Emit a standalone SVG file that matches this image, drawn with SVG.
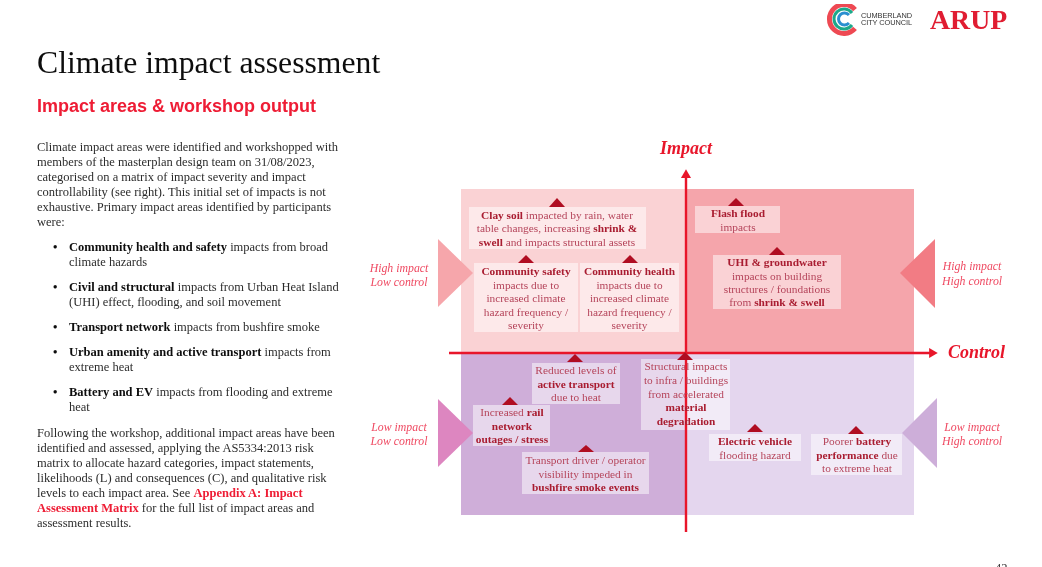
<svg xmlns="http://www.w3.org/2000/svg" width="1042" height="567" viewBox="0 0 1042 567">
<style>
text{font-family:"Liberation Serif","Times New Roman",serif}
.b{font-size:12.5px;fill:#2c2c2c}
.b tspan.s{font-weight:bold;fill:#111}
.b tspan.r{font-weight:bold;fill:#ee1c34}
.n{font-size:11.35px;fill:#b5445a;text-anchor:middle}
.n tspan.s{font-weight:bold;fill:#a91d30}
.box{fill:#fff;fill-opacity:.5}
.tri{fill:#b00f20}
.q{font-size:11.8px;font-style:italic;fill:#ef4a62;text-anchor:middle}
.ax{font-size:18px;font-style:italic;font-weight:bold;fill:#e8172c}
.axis{stroke:#e8172c;stroke-width:2.4;fill:none}
.lg{font-family:"Liberation Sans",Arial,sans-serif;font-size:7.4px;fill:#333}
</style>
<defs>
<marker id="ah" markerWidth="6" markerHeight="6" refX="1.2" refY="3" orient="auto" markerUnits="strokeWidth"><path d="M0 .9L3.6 3L0 5.1Z" fill="#e8172c"/></marker>
<filter id="soft" x="0" y="0" width="100%" height="100%"><feGaussianBlur stdDeviation="0.35"/></filter>
</defs>
<rect width="1042" height="567" fill="#fff"/>
<g filter="url(#soft)">
<g id="logos">
<path d="M855 9.600A14.500 14.500 0 1 0 855 28.400" fill="none" stroke="#ee4a52" stroke-width="5"/>
<path d="M852 13A10 10 0 1 0 852 25" fill="none" stroke="#1fa88a" stroke-width="3"/>
<path d="M849 15A6 6 0 1 0 849 23" fill="none" stroke="#2b8fd0" stroke-width="3"/>
<text class="lg" x="861" y="18" textLength="51">CUMBERLAND</text>
<text class="lg" x="861" y="25" textLength="51">CITY COUNCIL</text>
<text x="930" y="29" style="font-size:27.800px;font-weight:bold;fill:#e01f30">ARUP</text>
</g>
<text x="37" y="73" style="font-size:31.700px;fill:#111">Climate impact assessment</text>
<text x="37" y="112" style="font-family:'Liberation Sans',Arial,sans-serif;font-size:18px;font-weight:bold;fill:#ee1c34">Impact areas &amp; workshop output</text>
<g id="body">
<text class="b" x="37" y="151">Climate impact areas were identified and workshopped with</text>
<text class="b" x="37" y="166">members of the masterplan design team on 31/08/2023,</text>
<text class="b" x="37" y="181">categorised on a matrix of impact severity and impact</text>
<text class="b" x="37" y="196">controllability (see right). This initial set of impacts is not</text>
<text class="b" x="37" y="211">exhaustive. Primary impact areas identified by participants</text>
<text class="b" x="37" y="226">were:</text>
<text class="b" x="53" y="251"><tspan class="s">•</tspan></text>
<text class="b" x="69" y="251"><tspan class="s">Community health and safety</tspan> impacts from broad</text>
<text class="b" x="69" y="266">climate hazards</text>
<text class="b" x="53" y="291"><tspan class="s">•</tspan></text>
<text class="b" x="69" y="291"><tspan class="s">Civil and structural</tspan> impacts from Urban Heat Island</text>
<text class="b" x="69" y="306">(UHI) effect, flooding, and soil movement</text>
<text class="b" x="53" y="331"><tspan class="s">•</tspan></text>
<text class="b" x="69" y="331"><tspan class="s">Transport network</tspan> impacts from bushfire smoke</text>
<text class="b" x="53" y="356"><tspan class="s">•</tspan></text>
<text class="b" x="69" y="356"><tspan class="s">Urban amenity and active transport</tspan> impacts from</text>
<text class="b" x="69" y="371">extreme heat</text>
<text class="b" x="53" y="396"><tspan class="s">•</tspan></text>
<text class="b" x="69" y="396"><tspan class="s">Battery and EV</tspan> impacts from flooding and extreme</text>
<text class="b" x="69" y="411">heat</text>
<text class="b" x="37" y="437">Following the workshop, additional impact areas have been</text>
<text class="b" x="37" y="452">identified and assessed, applying the AS5334:2013 risk</text>
<text class="b" x="37" y="467">matrix to allocate hazard categories, impact statements,</text>
<text class="b" x="37" y="482">likelihoods (L) and consequences (C), and qualitative risk</text>
<text class="b" x="37" y="497">levels to each impact area. See <tspan class="r">Appendix A: Impact</tspan></text>
<text class="b" x="37" y="512"><tspan class="r">Assessment Matrix</tspan> for the full list of impact areas and</text>
<text class="b" x="37" y="527">assessment results.</text>
</g>
<g id="matrix">
<rect x="461" y="189" width="225" height="164" fill="#fad2d4"/>
<rect x="686" y="189" width="228" height="164" fill="#f5a5ab"/>
<rect x="461" y="353" width="225" height="162" fill="#cfaed9"/>
<rect x="686" y="353" width="228" height="162" fill="#e4d6ee"/>
</g>
<g id="pointers">
<path d="M438 239L473 273L438 307Z" fill="#f6a6ab"/>
<path d="M935 239L900 273L935 308Z" fill="#f27c84"/>
<path d="M438 399L473 433L438 467Z" fill="#dd86c0"/>
<path d="M937 398L902 433L937 468Z" fill="#cdaed9"/>
<text class="q" x="399" y="272">High impact</text><text class="q" x="399" y="286">Low control</text>
<text class="q" x="972" y="270">High impact</text><text class="q" x="972" y="285">High control</text>
<text class="q" x="399" y="431">Low impact</text><text class="q" x="399" y="445">Low control</text>
<text class="q" x="972" y="431">Low impact</text><text class="q" x="972" y="445">High control</text>
</g>
<g id="boxes-under-axis">
<rect class="box" x="641" y="359" width="89" height="71"/>
</g>
<g id="connectors">
<path class="axis" d="M686 532V175" marker-end="url(#ah)"/>
<path class="axis" d="M449 353H932" marker-end="url(#ah)"/>
</g>
<text class="ax" x="660" y="154">Impact</text>
<text class="ax" x="948" y="358">Control</text>
<g id="clay-soil"><rect class="box" x="469" y="207" width="177" height="42"/><path class="tri" d="M549 207L557 198L565 207Z"/>
<text class="n" x="557" y="219"><tspan class="s">Clay soil</tspan> impacted by rain, water</text>
<text class="n" x="557" y="232">table changes, increasing <tspan class="s">shrink &amp;</tspan></text>
<text class="n" x="557" y="246"><tspan class="s">swell</tspan> and impacts structural assets</text></g>
<g id="community-safety"><rect class="box" x="474" y="263" width="104" height="69"/><path class="tri" d="M518 263L526 255L534 263Z"/>
<text class="n" x="526" y="275"><tspan class="s">Community safety</tspan></text><text class="n" x="526" y="289">impacts due to</text><text class="n" x="526" y="302">increased climate</text><text class="n" x="526" y="316">hazard frequency /</text><text class="n" x="526" y="329">severity</text></g>
<g id="community-health"><rect class="box" x="580" y="263" width="99" height="69"/><path class="tri" d="M622 263L630 255L638 263Z"/>
<text class="n" x="629.500" y="275"><tspan class="s">Community health</tspan></text><text class="n" x="629.500" y="289">impacts due to</text><text class="n" x="629.500" y="302">increased climate</text><text class="n" x="629.500" y="316">hazard frequency /</text><text class="n" x="629.500" y="329">severity</text></g>
<g id="flash-flood"><rect class="box" x="695" y="206" width="85" height="27"/><path class="tri" d="M728 206L736 198L744 206Z"/>
<text class="n" x="738" y="217"><tspan class="s">Flash flood</tspan></text><text class="n" x="738" y="231">impacts</text></g>
<g id="uhi"><rect class="box" x="713" y="255" width="128" height="54"/><path class="tri" d="M769 255L777 247L785 255Z"/>
<text class="n" x="777" y="266"><tspan class="s">UHI &amp; groundwater</tspan></text><text class="n" x="777" y="280">impacts on building</text><text class="n" x="777" y="293">structures / foundations</text><text class="n" x="777" y="306">from <tspan class="s">shrink &amp; swell</tspan></text></g>
<g id="active-transport"><rect class="box" x="532" y="363" width="88" height="41"/><path class="tri" d="M567 362L575 354L583 362Z"/>
<text class="n" x="576" y="374">Reduced levels of</text><text class="n" x="576" y="388"><tspan class="s">active transport</tspan></text><text class="n" x="576" y="401">due to heat</text></g>
<g id="structural"><path class="tri" d="M677 360L685 352L693 360Z"/>
<text class="n" x="686" y="370">Structural impacts</text><text class="n" x="686" y="384">to infra / buildings</text><text class="n" x="686" y="398">from accelerated</text><text class="n" x="686" y="411"><tspan class="s">material</tspan></text><text class="n" x="686" y="425"><tspan class="s">degradation</tspan></text></g>
<g id="rail"><rect class="box" x="473" y="405" width="77" height="41"/><path class="tri" d="M502 405L510 397L518 405Z"/>
<text class="n" x="512" y="416">Increased <tspan class="s">rail</tspan></text><text class="n" x="512" y="430"><tspan class="s">network</tspan></text><text class="n" x="512" y="443"><tspan class="s">outages / stress</tspan></text></g>
<g id="transport-driver"><rect class="box" x="522" y="452" width="127" height="42"/><path class="tri" d="M578 452L586 445L594 452Z"/>
<text class="n" x="585.500" y="464">Transport driver / operator</text><text class="n" x="585.500" y="478">visibility impeded in</text><text class="n" x="585.500" y="491"><tspan class="s">bushfire smoke events</tspan></text></g>
<g id="ev"><rect class="box" x="709" y="434" width="92" height="27"/><path class="tri" d="M747 432L755 424L763 432Z"/>
<text class="n" x="755" y="445"><tspan class="s">Electric vehicle</tspan></text><text class="n" x="755" y="459">flooding hazard</text></g>
<g id="battery"><rect class="box" x="811" y="434" width="91" height="41"/><path class="tri" d="M848 434L856 426L864 434Z"/>
<text class="n" x="857" y="445">Poorer <tspan class="s">battery</tspan></text><text class="n" x="857" y="459"><tspan class="s">performance</tspan> due</text><text class="n" x="857" y="472">to extreme heat</text></g>
<text x="995" y="572" style="font-size:12.500px;fill:#333">42</text>
</g>
</svg>
